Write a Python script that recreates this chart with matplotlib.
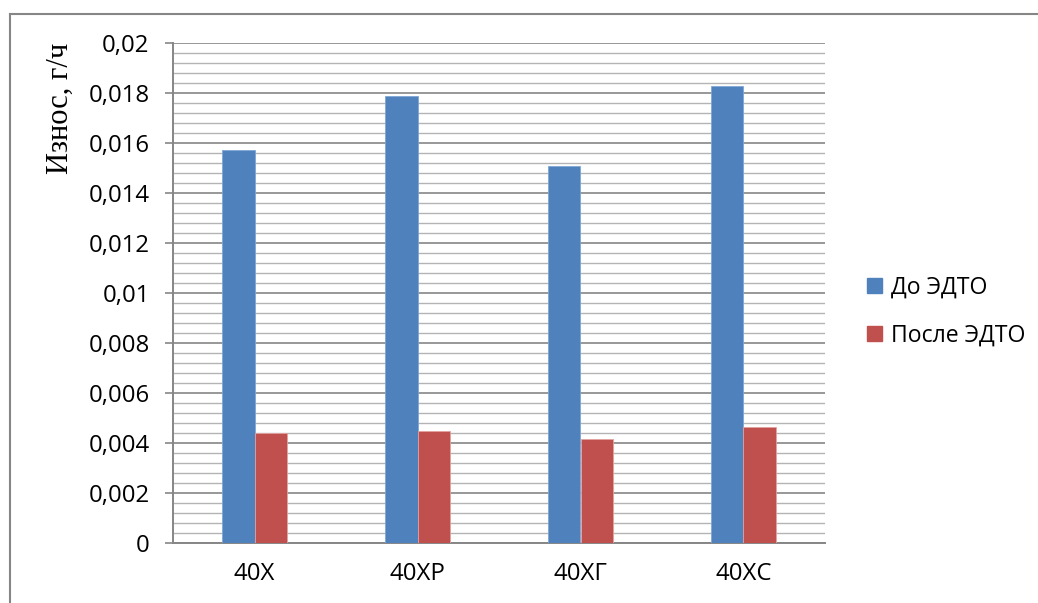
import matplotlib
matplotlib.use("Agg")
import matplotlib.pyplot as plt
from matplotlib.lines import Line2D
from matplotlib.patches import Patch
from matplotlib.ticker import MultipleLocator, FuncFormatter
import numpy as np

# Data
categories = ["40X", "40XP", "40XГ", "40XC"]
before_edto = [0.01572, 0.01788, 0.01510, 0.01830]
after_edto = [0.00439, 0.00448, 0.00416, 0.00464]
series_names = ["До ЭДТО", "После ЭДТО"]
y_label = "Износ, г/ч"

BLUE = "#4F81BD"
RED = "#C0504D"
GRID_MAJOR = "#868686"
GRID_MINOR = "#B4B4B4"

W, H, DPI = 1038, 603, 100
fig = plt.figure(figsize=(W / DPI, H / DPI), dpi=DPI)
fig.patch.set_facecolor("white")

sans = ["Open Sans", "DejaVu Sans"]
serif = ["Liberation Serif", "DejaVu Serif"]

ax = fig.add_axes([173 / W, 1 - 543 / H, (825 - 173) / W, (543 - 43) / H])

x = np.arange(len(categories))
bw = 0.198
ax.bar(x - bw / 2, before_edto, width=bw, color=BLUE, edgecolor="#7FA6D6",
       linewidth=0.6, zorder=3)
ax.bar(x + bw / 2, after_edto, width=bw, color=RED, edgecolor="#E3A2A0",
       linewidth=0.6, zorder=3)

ax.set_xlim(-0.5, len(categories) - 0.5)
ax.set_ylim(0, 0.02)

ax.yaxis.set_major_locator(MultipleLocator(0.002))
ax.yaxis.set_minor_locator(MultipleLocator(0.0004))
ax.yaxis.set_major_formatter(
    FuncFormatter(lambda v, p: "0" if abs(v) < 1e-12 else f"{v:.3f}".rstrip("0").replace(".", ",")))

ax.grid(which="major", axis="y", color=GRID_MAJOR, linewidth=1.2, zorder=1)
ax.grid(which="minor", axis="y", color=GRID_MINOR, linewidth=1.0, zorder=1)
ax.set_axisbelow(True)

for side in ("top", "right"):
    ax.spines[side].set_visible(False)
for side in ("left", "bottom"):
    ax.spines[side].set_color(GRID_MAJOR)
    ax.spines[side].set_linewidth(1.4)

ax.tick_params(axis="y", which="major", length=5.8, width=1.2, color=GRID_MAJOR,
               pad=11, labelsize=17.3, labelcolor="black")
ax.tick_params(axis="y", which="minor", length=0)
ax.tick_params(axis="x", length=0, pad=14, labelsize=17.3, labelcolor="black")
ax.set_xticks(x)
ax.set_xticklabels(categories)
for lab in ax.get_xticklabels() + ax.get_yticklabels():
    lab.set_fontfamily(sans)

# Left-side axis title
fig.text(60 / W, 1 - 108 / H, y_label, rotation=90, ha="center", va="center",
         fontsize=22, family=serif, color="black")

# Legend to the right of the plot
handles = [Patch(facecolor=BLUE, edgecolor=BLUE), Patch(facecolor=RED, edgecolor=RED)]
fig.legend(handles, series_names, loc="upper left",
           bbox_to_anchor=(858 / W, 1 - 266 / H), frameon=False,
           prop={"family": sans, "size": 16.6}, handlelength=0.62, handleheight=0.62,
           handletextpad=0.4, labelspacing=1.05, borderaxespad=0)

# Chart frame
frame_kw = dict(color=GRID_MAJOR, linewidth=1.5, transform=fig.transFigure)
fig.add_artist(Line2D([9.5 / W, 1.0], [1 - 13.5 / H, 1 - 13.5 / H], **frame_kw))
fig.add_artist(Line2D([9.5 / W, 9.5 / W], [1 - 13.5 / H, 0.0], **frame_kw))

fig.savefig("out.png", dpi=DPI, facecolor="white")
